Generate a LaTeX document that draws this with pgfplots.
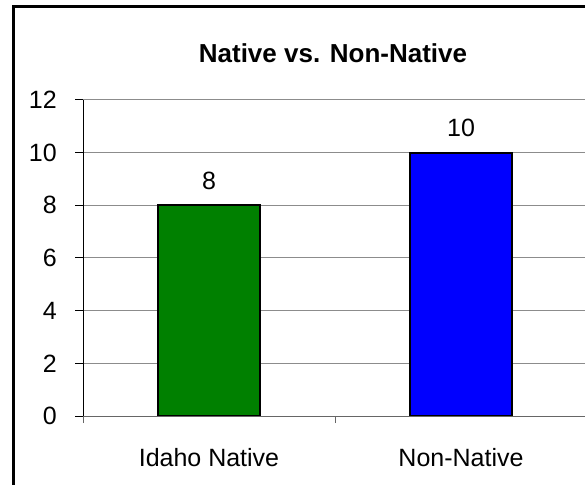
\documentclass[border=0pt]{standalone}
\usepackage{fontspec}
\setmainfont{Liberation Sans}
\usepackage{pgfplots}
\pgfplotsset{compat=1.18}

\definecolor{barGreen}{RGB}{0,128,0}
\definecolor{barBlue}{RGB}{0,0,255}
\newcommand{\lbl}{\fontsize{25bp}{30bp}\selectfont}

\begin{document}
\begin{tikzpicture}
\useasboundingbox (0,0) rectangle (585bp,485bp);
\clip (0,0) rectangle (585bp,485bp);
\draw[line width=3bp] (13bp,-5bp) -- (13bp,478bp) -- (600bp,478bp);
\node[font=\bfseries\fontsize{26bp}{30bp}\selectfont, anchor=base] at (333bp,422bp) {Native vs. Non-Native};
\begin{axis}[
    at={(83bp,69bp)}, anchor=south west,
    scale only axis,
    width=504bp, height=316bp,
    xmin=-0.5, xmax=1.5,
    ymin=0, ymax=12,
    ytick={0,2,...,12},
    xtick={0,1},
    xticklabels={Idaho Native, Non-Native},
    minor xtick={-0.5,0.5,1.5},
    major x tick style={draw=none},
    minor x tick style={black!60, line width=1bp},
    ytick style={black, line width=1bp},
    tick align=outside,
    major tick length=8bp,
    minor tick length=7bp,
    axis x line*=bottom,
    axis y line*=left,
    x axis line style={black!60, line width=1bp, -},
    y axis line style={black, line width=1bp, -},
    ymajorgrids=true,
    grid style={black!45, line width=1bp},
    /pgf/number format/assume math mode=true,
    ticklabel style={font=\lbl, inner sep=0pt},
    yticklabel style={anchor=east, xshift=-18bp},
    xticklabel style={anchor=north, yshift=-24bp},
    ybar, bar width=102bp,
    nodes near coords,
    nodes near coords style={font=\lbl, anchor=south, inner sep=0pt, yshift=15bp, black},
]
\addplot[bar shift=0pt, fill=barGreen, draw=black, line width=2bp] coordinates {(0,8)};
\addplot[bar shift=0pt, fill=barBlue, draw=black, line width=2bp] coordinates {(1,10)};
\end{axis}
\end{tikzpicture}
\end{document}
